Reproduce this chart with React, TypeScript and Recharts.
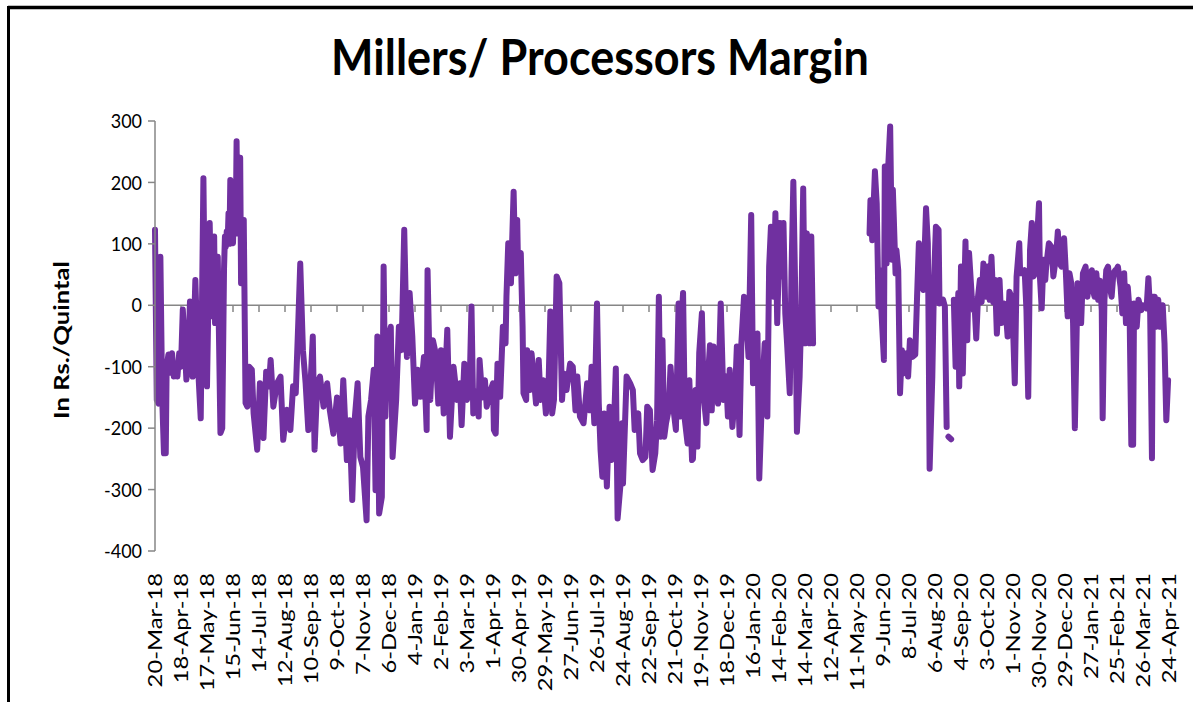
import React from 'react';
import { LineChart, Line, XAxis, YAxis, ReferenceLine } from 'recharts';

type Pt = [number, number | null];

// [days since 20-Mar-18, margin in Rs./Quintal]
const mar18ToSep18: Pt[] = [
  [0, 123], [2, -154], [4, -160], [6, 79], [8, -150], [10, -241], [12, -241], [13, -100], [15, -80],
  [17, -110], [19, -78], [21, -116], [23, -95], [25, -116], [27, -78], [29, -100], [31, -7], [33, -60],
  [35, -121], [37, -90], [39, 6], [42, -116], [45, 41], [48, -100], [51, -184], [54, 207], [56, -60],
  [58, -132], [61, 134], [63, -18], [66, 112], [67, -29], [70, 79], [73, -208], [75, -200], [77, 60],
  [78, 112], [79, 95], [80, 120], [81, 101], [82, 150], [83, 100], [84, 204], [85, 120], [86, 110],
  [87, 101], [88, 160], [89, 180], [90, 120], [91, 267], [92, 117], [93, 200], [94, 220], [95, 240],
  [96, 36], [99, 139], [101, -159], [103, -165], [105, -100], [108, -105],
  [110, -176], [114, -235], [117, -127], [121, -216], [124, -108], [127, -132], [129, -89], [132, -165],
  [136, -127], [140, -116], [143, -219], [147, -170], [151, -203], [154, -132], [157, -143], [160, -20],
  [162, 68], [165, -73], [168, -127], [171, -203], [173, -143], [176, -51], [178, -235], [181, -127],
  [184, -116], [188, -165],
];

const sep18ToMar19: Pt[] = [
  [192, -127], [195, -171], [199, -209], [203, -150], [207, -225], [210, -122], [214, -252], [217, -187],
  [220, -317], [223, -181], [226, -127], [229, -247], [232, -263], [236, -350], [238, -181], [241, -154],
  [244, -105], [246, -301], [248, -51], [250, -339], [253, -312], [255, 63], [257, -181], [259, -62],
  [263, -35], [265, -247], [269, -154], [272, -35], [275, -73], [278, 123], [281, -84], [284, 20],
  [287, -51], [290, -160], [293, -105], [296, -149], [300, -84], [303, -203], [304, 57], [307, -154],
  [310, -57], [313, -78], [316, -160], [319, -73], [322, -176], [326, -40], [329, -214], [333, -100],
  [337, -154], [340, -127], [342, -195], [345, -95], [348, -154], [351, -127], [353, -2], [355, -176],
  [359, -140], [361, -181], [362, -89], [365, -150], [368, -122], [370, -165], [374, -140], [377, -127],
  [378, -203],
];

const mar19ToOct19: Pt[] = [
  [380, -209], [382, -95], [385, -149], [388, -35], [391, -62], [392, 14], [394, 101], [397, 36],
  [400, 185], [402, 52], [404, 139], [405, 57], [408, 85], [410, -35], [411, -143], [414, -154],
  [415, -73], [418, -138], [420, -78], [423, -127], [425, -160], [428, -89], [430, -154], [433, -122],
  [436, -176], [439, -127], [441, -10], [443, -176], [445, -154], [448, 47], [451, 36], [454, -154],
  [456, -111], [459, -138], [463, -95], [466, -100], [469, -171], [471, -116], [474, -181], [478, -192],
  [482, -127], [485, -171], [487, -100], [490, -192], [493, 3], [495, -160], [497, -236], [499, -279],
  [501, -176], [504, -295], [507, -165], [509, -252], [512, -192], [514, -103], [516, -347], [519, -295],
  [521, -192], [522, -290], [526, -116], [530, -127], [533, -138], [535, -203], [539, -176], [541, -241],
  [544, -252], [547, -247], [549, -165], [552, -171], [555, -268], [558, -241], [560, -187], [562, 14],
  [564, -214], [566, -57], [568, -214],
];

const oct19ToMar20: Pt[] = [
  [570, -192], [573, -170], [575, -100], [578, -165], [581, -203], [584, 3], [586, -181], [587, -29],
  [589, 20], [591, -187], [594, -225], [596, -122], [599, -252], [600, -250], [603, -138], [605, -230],
  [607, -78], [610, -13], [612, -149], [615, -192], [617, -111], [619, -65], [621, -171], [623, -67],
  [626, -116], [628, -160], [631, 3], [634, -154], [637, -116], [639, -181], [641, -105], [644, -198],
  [647, -143], [649, -67], [652, -211], [654, -62], [657, 14], [659, -8], [662, -84], [665, 147],
  [667, -127], [670, -62], [672, -46], [674, -282], [677, -149], [680, -62], [683, -181], [685, 63],
  [687, 128], [690, 14], [692, 150], [694, -29], [697, 134], [699, 47], [701, 134], [703, -13],
  [705, -62], [708, -143], [710, 57], [712, 201], [714, 30], [716, -206], [719, -116], [721, -2],
  [723, 190], [725, -62], [727, 117], [730, -62], [732, 112], [734, -62],
];

const may20ToNov20: Pt[] = [
  [765, null],
  [797, 117], [798, 171], [800, 106], [803, 218], [805, 166], [807, -2], [809, 57], [810, -2],
  [813, -89], [814, 226], [816, 68], [818, 231], [820, 291], [822, 74], [823, 188], [824, 144],
  [826, 52], [827, 90], [829, 57], [831, -143], [833, -73], [835, -111], [838, -78], [840, -116],
  [842, -57], [845, -84], [848, -80], [850, 14], [852, 101], [855, 30], [857, 25], [860, 158],
  [862, 101], [863, -57], [864, -266], [867, -116], [869, 47], [871, 128], [874, 123], [875, 3],
  [879, 9], [881, -2], [883, -198], [884, null], [885, -214], [888, -218], [889, null], [891, 9],
  [893, -100], [896, 20], [897, -132], [899, 63], [901, -111], [903, 41], [904, 104], [906, -57],
  [908, 85], [911, 14], [913, -8], [914, 5], [916, -54], [918, 14], [920, 41], [922, 5], [924, 68],
  [927, 14], [929, 63], [931, 9], [933, 79], [935, 5], [937, 41], [939, -46], [941, 10], [942, 41],
];

const nov20ToApr21: Pt[] = [
  [944, -29], [947, 3], [949, -10], [951, -51], [953, 22], [955, 15], [957, -35], [959, -127], [961, 47],
  [964, 101], [965, 52], [968, 52], [970, 57], [972, -8], [974, -149], [976, 90], [978, 134], [980, 47],
  [983, 57], [984, 112], [986, 166], [987, 47], [989, -5], [991, 74], [993, 41], [994, 63], [997, 101],
  [1000, 95], [1002, 47], [1005, 79], [1007, 120], [1009, 68], [1011, 63], [1014, 109], [1016, 52],
  [1018, -18], [1020, 52], [1022, 36], [1024, -29], [1026, -200], [1029, 36], [1032, 30], [1033, -29],
  [1035, 52], [1038, 63], [1040, 14], [1042, 47], [1045, 57], [1046, 25], [1048, 14], [1050, 52],
  [1052, 9], [1054, 40], [1056, -8], [1057, -184], [1059, 9], [1061, 57], [1063, 63], [1065, 30],
  [1067, 14], [1069, 52], [1071, 57], [1072, 57], [1074, 63], [1077, 30], [1079, -13], [1081, 52],
  [1083, -29], [1085, 30], [1087, -8], [1089, -227], [1091, -227], [1092, 3], [1095, -35], [1097, 9],
  [1098, 3], [1100, -8], [1102, 0], [1106, -5], [1108, 44], [1110, -13], [1112, -249], [1113, 14],
  [1115, 14], [1117, -35], [1119, 9], [1121, -35], [1123, -8], [1124, 0], [1126, -62], [1128, -187],
  [1130, -122],
];

// one label every 29 days
const tickLabels = [
  '20-Mar-18', '18-Apr-18', '17-May-18', '15-Jun-18', '14-Jul-18', '12-Aug-18', '10-Sep-18', '9-Oct-18',
  '7-Nov-18', '6-Dec-18', '4-Jan-19', '2-Feb-19', '3-Mar-19', '1-Apr-19', '30-Apr-19', '29-May-19',
  '27-Jun-19', '26-Jul-19', '24-Aug-19', '22-Sep-19', '21-Oct-19', '19-Nov-19', '18-Dec-19', '16-Jan-20',
  '14-Feb-20', '14-Mar-20', '12-Apr-20', '11-May-20', '9-Jun-20', '8-Jul-20', '6-Aug-20', '4-Sep-20',
  '3-Oct-20', '1-Nov-20', '30-Nov-20', '29-Dec-20', '27-Jan-21', '25-Feb-21', '26-Mar-21', '24-Apr-21',
];
const TICK_STEP = 29;
const xTicks = tickLabels.map((_, i) => i * TICK_STEP);
const yTicks = [-400, -300, -200, -100, 0, 100, 200, 300];

const data = [mar18ToSep18, sep18ToMar19, mar19ToOct19, oct19ToMar20, may20ToNov20, nov20ToApr21]
  .flat()
  .map(([day, margin]) => ({ day, margin }));

const FONT = 'Lato, Calibri, sans-serif';
const AXIS_GRAY = '#868686';

const XTick = (props: any) => {
  const { x, y, payload } = props;
  const label = tickLabels[Math.round(payload.value / TICK_STEP)];
  return (
    <g transform={`translate(${x},${y}) scale(1,1.25) rotate(-90)`}>
      <text x={0} y={0} dy="0.36em" textAnchor="end" fontFamily={FONT} fontSize={19} fill="#000">
        {label}
      </text>
    </g>
  );
};

const YTick = (props: any) => {
  const { x, y, payload } = props;
  return (
    <g transform={`translate(${x},${y}) scale(1,1.1)`}>
      <text x={0} y={0} dy="0.36em" textAnchor="end" fontFamily={FONT} fontSize={18} fill="#000">
        {payload.value}
      </text>
    </g>
  );
};

export default function App() {
  return (
    <div
      style={{
        position: 'absolute',
        left: 0,
        top: 0,
        width: 1193,
        height: 702,
        overflow: 'hidden',
        background: '#fff',
      }}
    >
      <LineChart
        width={1193}
        height={702}
        data={data}
        margin={{ top: 121, right: 24, bottom: 0, left: 0 }}
      >
        <XAxis
          dataKey="day"
          type="number"
          domain={[0, 1131]}
          ticks={xTicks}
          interval={0}
          axisLine={false}
          tickLine={false}
          tickSize={6}
          tickMargin={16}
          height={151}
          tick={<XTick />}
        />
        <YAxis
          type="number"
          domain={[-400, 300]}
          ticks={yTicks}
          interval={0}
          width={155}
          axisLine={{ stroke: AXIS_GRAY, strokeWidth: 1.5 }}
          tickLine={{ stroke: AXIS_GRAY, strokeWidth: 1.5 }}
          tickSize={7}
          tickMargin={6}
          tick={<YTick />}
        />
        <ReferenceLine y={0} stroke={AXIS_GRAY} strokeWidth={1.5} />
        {xTicks.map((t) => (
          <ReferenceLine
            key={t}
            segment={[
              { x: t, y: 0 },
              { x: t, y: -11 },
            ]}
            stroke={AXIS_GRAY}
            strokeWidth={1.5}
          />
        ))}
        <Line
          type="linear"
          dataKey="margin"
          stroke="#7030A0"
          strokeWidth={6}
          strokeLinejoin="round"
          strokeLinecap="round"
          dot={false}
          connectNulls={false}
          isAnimationActive={false}
        />
      </LineChart>
      <svg
        width={1193}
        height={702}
        style={{ position: 'absolute', left: 0, top: 0, pointerEvents: 'none' }}
      >
        <line x1={8} y1={7.5} x2={1193} y2={7.5} stroke="#000" strokeWidth={3.5} />
        <line x1={8.5} y1={6} x2={8.5} y2={702} stroke="#000" strokeWidth={3} />
        <g transform="translate(600,75) scale(1,1.1)">
          <text x={0} y={0} textAnchor="middle" fontFamily={FONT} fontWeight={700} fontSize={45} fill="#000">
            Millers/ Processors Margin
          </text>
        </g>
        <g transform="translate(62,340) scale(1,1.28) rotate(-90)">
          <text x={0} y={0} dy="0.36em" textAnchor="middle" fontFamily={FONT} fontWeight={700} fontSize={20} fill="#000">
            In Rs./Quintal
          </text>
        </g>
      </svg>
    </div>
  );
}
